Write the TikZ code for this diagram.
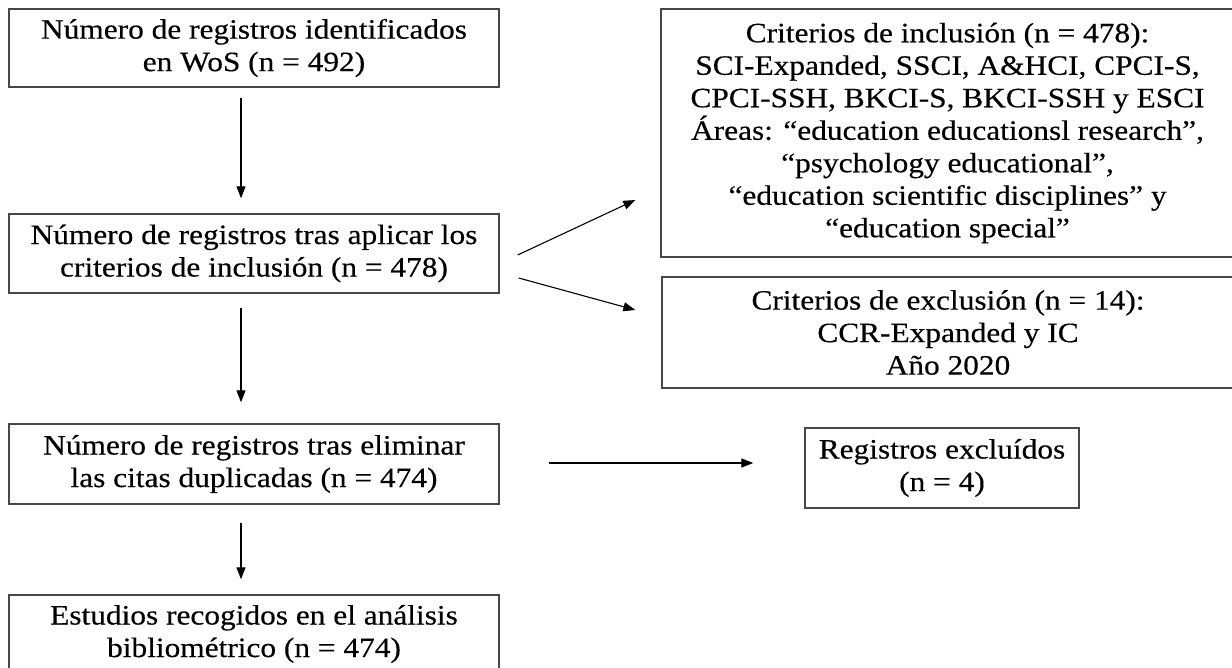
\documentclass[tikz,border=0pt]{standalone}
\usepackage{fontspec}
\setmainfont{Liberation Serif}[FakeStretch=1.12,FakeBold=0.35]
\usetikzlibrary{arrows.meta,calc}
\tikzset{
  box/.style={draw=black!72, line width=1.4pt, fill=none, inner sep=0pt, align=center,
    font=\fontsize{28}{32.5}\selectfont, text=black},
  arr/.style={draw=black, line width=1.1pt, -{Triangle[length=12pt,width=9pt]}}
}
\begin{document}
\begin{tikzpicture}[x=1pt,y=-1pt]
\clip (0,0) rectangle (1232,668);
\fill[white] (0,0) rectangle (1232,668);
% left column
\node[box, minimum width=490pt, minimum height=78pt] (B1) at (254,48)
  {Número de registros identificados\\en WoS (n = 492)};
\node[box, minimum width=490pt, minimum height=79pt] (B2) at (254,253.5)
  {Número de registros tras aplicar los\\criterios de inclusión (n = 478)};
\node[box, minimum width=490pt, minimum height=80pt] (B3) at (254,464)
  {Número de registros tras eliminar\\las citas duplicadas (n = 474)};
\node[box, minimum width=490pt, minimum height=78pt] (B4) at (254,634)
  {Estudios recogidos en el análisis\\bibliométrico (n = 474)};
% right column
\node[box, minimum width=573pt, minimum height=248pt] (Inc) at (947.5,133)
  {Criterios de inclusión (n = 478):\\
   SCI-Expanded, SSCI, A\&HCI, CPCI-S,\\
   CPCI-SSH, BKCI-S, BKCI-SSH y ESCI\\
   Áreas: “education educationsl research”,\\
   “psychology educational”,\\
   “education scientific disciplines” y\\
   “education special”};
\node[box, minimum width=572pt, minimum height=111pt] (Exc) at (948,332.5)
  {Criterios de exclusión (n = 14):\\CCR-Expanded y IC\\Año 2020};
\node[box, minimum width=274pt, minimum height=80pt] (Reg) at (942,468)
  {Registros excluídos\\(n = 4)};
% connectors
\draw[arr] ($(B1.south)+(-13,10)$) -- ($(B2.north)+(-13,-15)$);
\draw[arr] ($(B2.south)+(-13,14)$) -- ($(B3.north)+(-13,-21)$);
\draw[arr] ($(B3.south)+(-13,18)$) -- ($(B4.north)+(-13,-15)$);
\draw[arr] ($(B2.east)+(18,1.5)$) -- ($(Inc.west)+(-25,67)$);
\draw[arr] ($(B2.east)+(19,24.5)$) -- ($(Exc.west)+(-26,-22.5)$);
\draw[arr] ($(B3.east)+(49,-1)$) -- ($(Reg.west)+(-51,-5)$);
\end{tikzpicture}
\end{document}
